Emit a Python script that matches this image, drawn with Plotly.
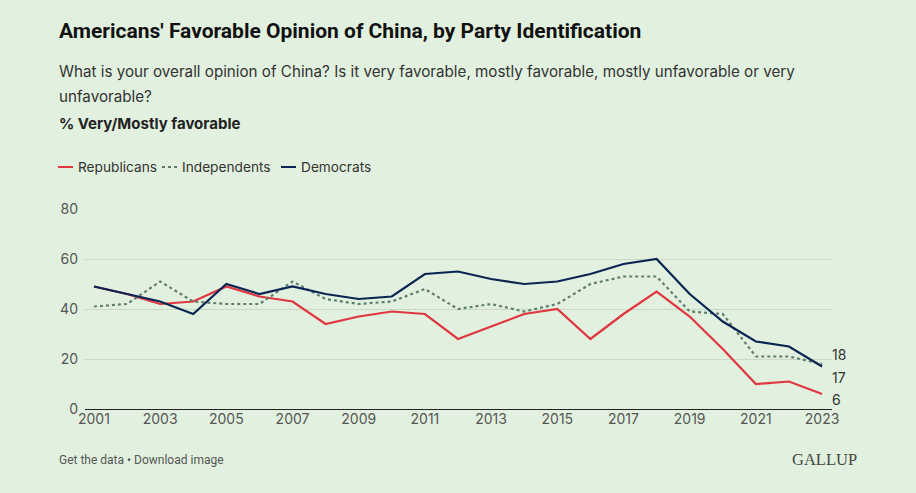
import plotly.graph_objects as go

years = list(range(2001, 2024))
republicans = [49, 46, 42, 43, 49, 45, 43, 34, 37, 39, 38, 28, 33, 38, 40, 28, 38, 47, 37, 24, 10, 11, 6]
independents = [41, 42, 51, 43, 42, 42, 51, 44, 42, 43, 48, 40, 42, 39, 42, 50, 53, 53, 39, 38, 21, 21, 18]
democrats = [49, 46, 43, 38, 50, 46, 49, 46, 44, 45, 54, 55, 52, 50, 51, 54, 58, 60, 46, 35, 27, 25, 17]
series_names = ["Republicans", "Independents", "Democrats"]
y_ticks = [0, 20, 40, 60, 80]
x_ticks = [2001, 2003, 2005, 2007, 2009, 2011, 2013, 2015, 2017, 2019, 2021, 2023]
end_labels = ["18", "17", "6"]

BG = "#E2F1DF"
RED = "#E0363F"
IND = "#5F7F6E"
NAVY = "#0B2553"
FONT = "Inter, Roboto, sans-serif"
colors = [RED, IND, NAVY]
dashes = ["solid", "dot", "solid"]

PLOT_L, PLOT_R, PLOT_T, PLOT_B = 85, 832, 209, 409
PW = PLOT_R - PLOT_L
PH = PLOT_B - PLOT_T


def px(x):
    return (x - PLOT_L) / PW


def py(y):
    return (PLOT_B - y) / PH


fig = go.Figure()
for name, vals, c, d in zip(series_names, [republicans, independents, democrats], colors, dashes):
    fig.add_trace(go.Scatter(x=years, y=vals, mode="lines", name=name,
                             line=dict(color=c, width=2.2, dash=d), showlegend=False))

fig.update_layout(
    width=916, height=493,
    paper_bgcolor=BG, plot_bgcolor=BG,
    margin=dict(l=PLOT_L, r=916 - PLOT_R, t=PLOT_T, b=493 - PLOT_B),
    font=dict(family=FONT, color="#333333", size=14),
    showlegend=False,
    xaxis=dict(range=[2000.73, 2023.3], tickvals=x_ticks, ticktext=[str(v) for v in x_ticks],
               showgrid=False, zeroline=False, showline=False, ticks="",
               tickfont=dict(size=14, color="#555555"), fixedrange=True),
    yaxis=dict(range=[0, 80], tickvals=y_ticks, showgrid=True, gridcolor="#C9D9C6", gridwidth=1,
               zeroline=True, zerolinecolor="#222222", zerolinewidth=1.2, showline=False, ticks="",
               ticklabelstandoff=6,
               tickfont=dict(size=14, color="#555555"), fixedrange=True),
)

ann = []
shapes = []
ann.append(dict(text="<b>Americans' Favorable Opinion of China, by Party Identification</b>",
                xref="paper", yref="paper", x=px(57), y=py(31),
                xanchor="left", yanchor="middle", showarrow=False,
                font=dict(size=21, color="#111111", family="Roboto, sans-serif")))
ann.append(dict(text="What is your overall opinion of China? Is it very favorable, mostly favorable, mostly unfavorable or very",
                xref="paper", yref="paper", x=px(57), y=py(71),
                xanchor="left", yanchor="middle", showarrow=False,
                font=dict(size=15.2, color="#333333", family=FONT)))
ann.append(dict(text="unfavorable?",
                xref="paper", yref="paper", x=px(57), y=py(97),
                xanchor="left", yanchor="middle", showarrow=False,
                font=dict(size=15.2, color="#333333", family=FONT)))
ann.append(dict(text="<b>% Very/Mostly favorable</b>",
                xref="paper", yref="paper", x=px(57), y=py(124),
                xanchor="left", yanchor="middle", showarrow=False,
                font=dict(size=15, color="#222222", family=FONT)))
ann.append(dict(text="Get the data • Download image",
                xref="paper", yref="paper", x=px(57), y=py(460),
                xanchor="left", yanchor="middle", showarrow=False,
                font=dict(size=12, color="#555555", family="Roboto, sans-serif")))
ann.append(dict(text="GALLUP",
                xref="paper", yref="paper", x=px(859), y=py(459),
                xanchor="right", yanchor="middle", showarrow=False,
                font=dict(size=16.5, color="#444444", family="Liberation Serif, serif")))
for lab, ypix in zip(end_labels, [354, 377, 399]):
    ann.append(dict(text=lab, xref="x", yref="paper", x=years[-1], y=py(ypix),
                    xanchor="left", yanchor="middle", xshift=8, showarrow=False,
                    font=dict(size=14, color="#333333", family=FONT)))

# custom compact legend
leg_sym_x = [58, 162, 281]
leg_y = 167
for name, c, d, sx in zip(series_names, colors, dashes, leg_sym_x):
    shapes.append(dict(type="line", xref="paper", yref="paper",
                       x0=px(sx), x1=px(sx + 15), y0=py(leg_y), y1=py(leg_y),
                       line=dict(color=c, width=2, dash=d)))
    ann.append(dict(text=name, xref="paper", yref="paper", x=px(sx + 18), y=py(leg_y),
                    xanchor="left", yanchor="middle", showarrow=False,
                    font=dict(size=13.7, color="#333333", family=FONT)))

fig.update_layout(annotations=ann, shapes=shapes)

fig.write_html("out.html")
